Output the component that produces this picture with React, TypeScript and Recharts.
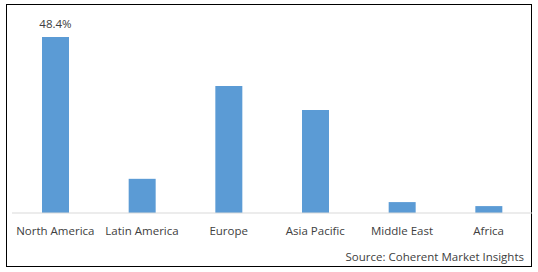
import { BarChart, Bar, XAxis, YAxis, LabelList } from 'recharts';

const regions = ['North America', 'Latin America', 'Europe', 'Asia Pacific', 'Middle East', 'Africa'];
const shares = [48.4, 9.4, 34.9, 28.3, 3.0, 1.9];
const shareLabels = ['48.4%', '', '', '', '', ''];

const data = regions.map((region, i) => ({
    region,
    share: shares[i],
    label: shareLabels[i],
}));

const font = '"Open Sans", "DejaVu Sans", sans-serif';

export default function App() {
    return (
        <div style={{ position: 'fixed', left: 0, top: 0, width: 538, height: 272, background: '#fff', fontFamily: font }}>
            <div
                style={{
                    position: 'absolute',
                    left: 6,
                    top: 4,
                    width: 524,
                    height: 261,
                    border: '1px solid #000',
                }}
            />
            <div style={{ position: 'absolute', left: 0, top: 0 }}>
                <BarChart
                    width={538}
                    height={272}
                    data={data}
                    margin={{ top: 37, right: 6, bottom: 29, left: 12 }}
                    barCategoryGap={0}
                >
                    <XAxis
                        dataKey="region"
                        axisLine={{ stroke: '#d9d9d9' }}
                        tickLine={false}
                        tickSize={0}
                        tickMargin={14}
                        height={30}
                        interval={0}
                        tick={{ fill: '#404040', fontSize: 11.5, fontFamily: font }}
                    />
                    <YAxis hide domain={[0, 48.4]} />
                    <Bar dataKey="share" fill="#5b9bd5" barSize={27} isAnimationActive={false}>
                        <LabelList
                            dataKey="label"
                            position="top"
                            offset={9}
                            fill="#404040"
                            fontSize={11.5}
                            fontFamily={font}
                        />
                    </Bar>
                </BarChart>
            </div>
            <div
                style={{
                    position: 'absolute',
                    right: 538 - 524,
                    top: 249,
                    fontSize: 11.5,
                    color: '#404040',
                    whiteSpace: 'nowrap',
                }}
            >
                Source: Coherent Market Insights
            </div>
        </div>
    );
}
